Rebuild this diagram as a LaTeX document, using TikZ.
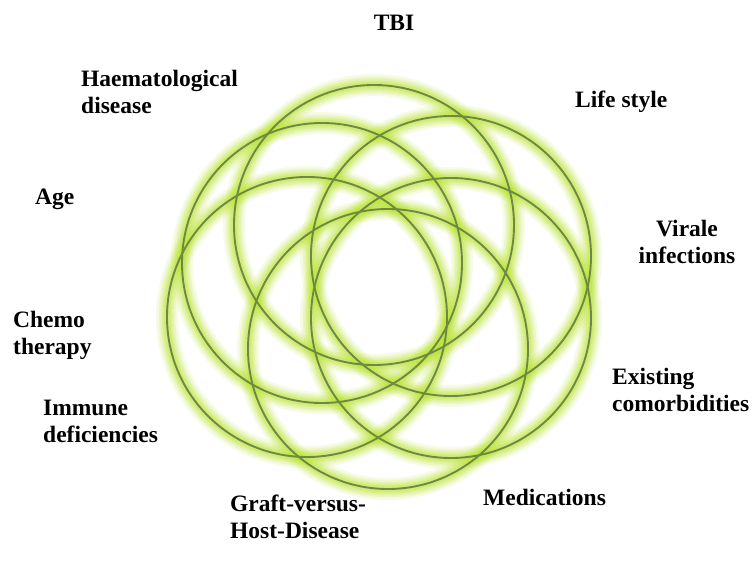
\documentclass[tikz,border=0pt]{standalone}
\usepackage{fontspec}
\setmainfont{Liberation Serif}
\definecolor{glowc}{RGB}{185,228,45}
\definecolor{ringc}{RGB}{110,136,70}
\tikzset{
  lbl/.style={font=\fontsize{23.5}{26.5}\selectfont\bfseries, inner sep=0pt, text=black},
  glowA/.style={draw=glowc, line width=22pt, opacity=0.12},
  glowB/.style={draw=glowc, line width=17pt, opacity=0.16},
  glowC/.style={draw=glowc, line width=13pt, opacity=0.2},
  glowD/.style={draw=glowc, line width=9pt, opacity=0.22},
  glowE/.style={draw=glowc, line width=6pt, opacity=0.25},
  ring/.style={draw=ringc, line width=1.9pt},
}
\begin{document}
\begin{tikzpicture}[x=1pt,y=-1pt]
\useasboundingbox (0,0) rectangle (755,569);
\fill[white] (0,0) rectangle (755,569);
\coordinate (c1) at (374,225);
\coordinate (c2) at (451,256);
\coordinate (c3) at (451,318);
\coordinate (c4) at (388,349);
\coordinate (c5) at (307,317);
\coordinate (c6) at (322,263);
\foreach \c in {c1,c2,c3,c4,c5,c6}{
  \path[glowA] (\c) circle (140pt);
  \path[glowB] (\c) circle (140pt);
  \path[glowC] (\c) circle (140pt);
  \path[glowD] (\c) circle (140pt);
  \path[glowE] (\c) circle (140pt);
}
\foreach \c in {c1,c2,c3,c4,c5,c6}{
  \path[ring] (\c) circle (140pt);
}
\node[lbl, anchor=base] (tbi) at (394,31) {TBI};
\node[lbl, anchor=north west, align=left] (haem) at (81,70) {Haematological\\disease};
\node[lbl, anchor=base west] (life) at (575,108) {Life style};
\node[lbl, anchor=north, align=center] (vir) at (687,220) {Virale\\infections};
\node[lbl, anchor=base west] (age) at (35,205) {Age};
\node[lbl, anchor=north west, align=left] (chemo) at (13,311) {Chemo\\therapy};
\node[lbl, anchor=north west, align=left] (exist) at (612,368) {Existing\\comorbidities};
\node[lbl, anchor=north west, align=left] (imm) at (43,400) {Immune\\deficiencies};
\node[lbl, anchor=base west] (med) at (483,505) {Medications};
\node[lbl, anchor=north west, align=left] (gvhd) at (230,495) {Graft-versus-\\Host-Disease};
\end{tikzpicture}
\end{document}
